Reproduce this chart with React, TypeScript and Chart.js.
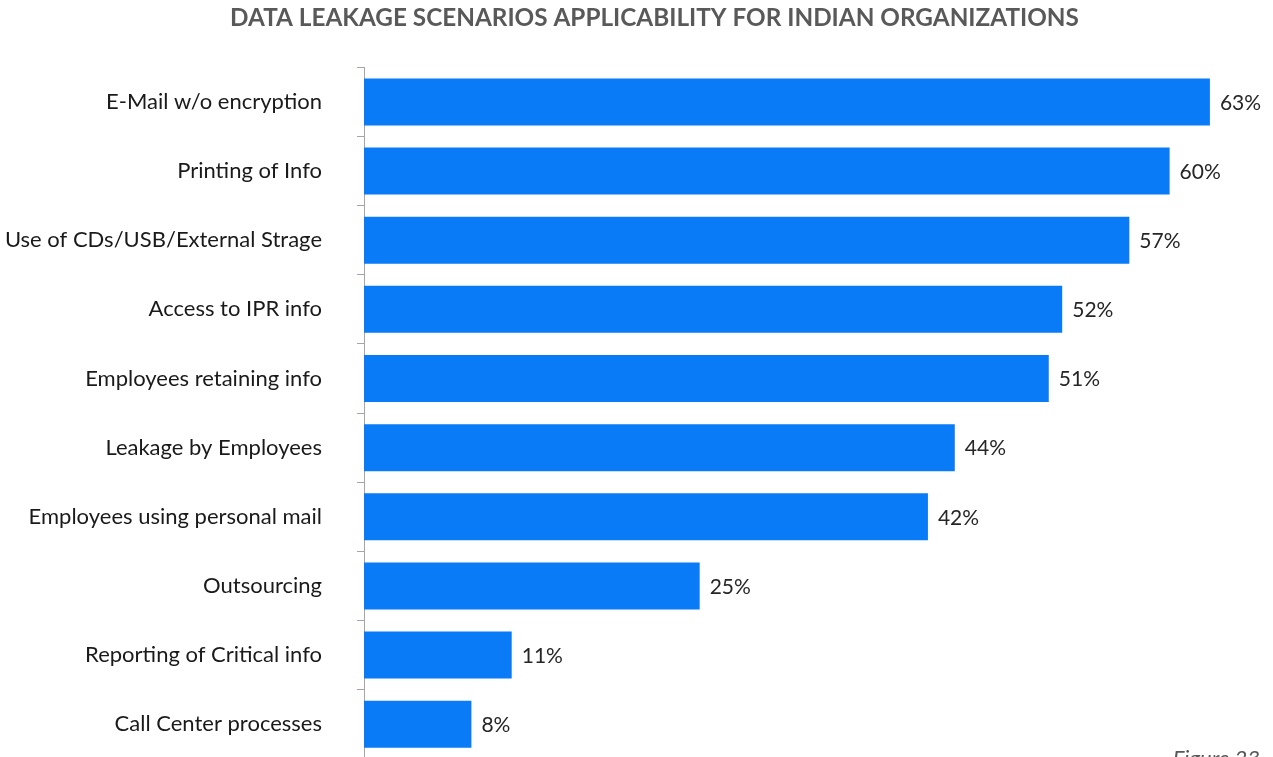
import React, { useEffect, useRef } from "react";
import { Chart, registerables } from "chart.js";

Chart.register(...registerables);

const categories = [
  "E-Mail w/o encryption",
  "Printing of Info",
  "Use of CDs/USB/External Strage",
  "Access to IPR info",
  "Employees retaining info",
  "Leakage by Employees",
  "Employees using personal mail",
  "Outsourcing",
  "Reporting of Critical info",
  "Call Center processes",
];
const values = [63, 60, 57, 52, 51, 44, 42, 25, 11, 8];
const titleText = "DATA LEAKAGE SCENARIOS APPLICABILITY FOR INDIAN ORGANIZATIONS";
const footText = "Figure 23";

const FONT = "Lato, 'Open Sans', sans-serif";

const valueLabels = {
  id: "valueLabels",
  afterDatasetsDraw(chart: any) {
    const ctx = chart.ctx;
    const meta = chart.getDatasetMeta(0);
    ctx.save();
    ctx.font = `21px ${FONT}`;
    ctx.fillStyle = "#262626";
    ctx.textAlign = "left";
    ctx.textBaseline = "middle";
    meta.data.forEach((bar: any, i: number) => {
      ctx.fillText(values[i] + "%", bar.x + 10, bar.y + 1);
    });
    ctx.restore();
  },
};

const footNote = {
  id: "footNote",
  afterDraw(chart: any) {
    const ctx = chart.ctx;
    ctx.save();
    ctx.font = `italic 22px ${FONT}`;
    ctx.fillStyle = "#595959";
    ctx.textAlign = "right";
    ctx.textBaseline = "alphabetic";
    ctx.fillText(footText, 1260, 766);
    ctx.restore();
  },
};

export default function App() {
  const ref = useRef<HTMLCanvasElement>(null);
  useEffect(() => {
    if (!ref.current) return;
    const chart = new Chart(ref.current, {
      type: "bar",
      data: {
        labels: categories,
        datasets: [
          {
            data: values,
            backgroundColor: "#0a7bf7",
            borderWidth: 0,
            barPercentage: 0.68,
            categoryPercentage: 1,
          },
        ],
      },
      options: {
        indexAxis: "y",
        responsive: false,
        animation: false,
        layout: { padding: { left: 0, right: -36, top: 0, bottom: 12 } },
        plugins: {
          legend: { display: false },
          tooltip: { enabled: false },
          title: {
            display: true,
            text: titleText,
            color: "#595959",
            font: { family: FONT, size: 24.3, weight: "bold", lineHeight: 1.2 },
            padding: { top: 4, bottom: 34.2 },
          },
        },
        scales: {
          x: { display: false, min: 0, max: 67.7 },
          y: {
            afterFit(scale: any) {
              scale.width = 364;
            },
            grid: {
              drawOnChartArea: false,
              drawTicks: true,
              tickLength: 7,
              color: "#a6a6a6",
              offset: true,
            },
            border: { display: true, color: "#a6a6a6", width: 1 },
            ticks: {
              color: "#1a1a1a",
              padding: 35,
              font: { family: FONT, size: 22 },
            },
          },
        },
      },
      plugins: [valueLabels, footNote],
    });
    return () => chart.destroy();
  }, []);
  return (
    <div
      style={{
        position: "fixed",
        left: 0,
        top: 0,
        width: 1273,
        height: 757,
        overflow: "hidden",
        background: "#ffffff",
      }}
    >
      <canvas ref={ref} width={1273} height={807} style={{ width: 1273, height: 807, display: "block" }} />
    </div>
  );
}
